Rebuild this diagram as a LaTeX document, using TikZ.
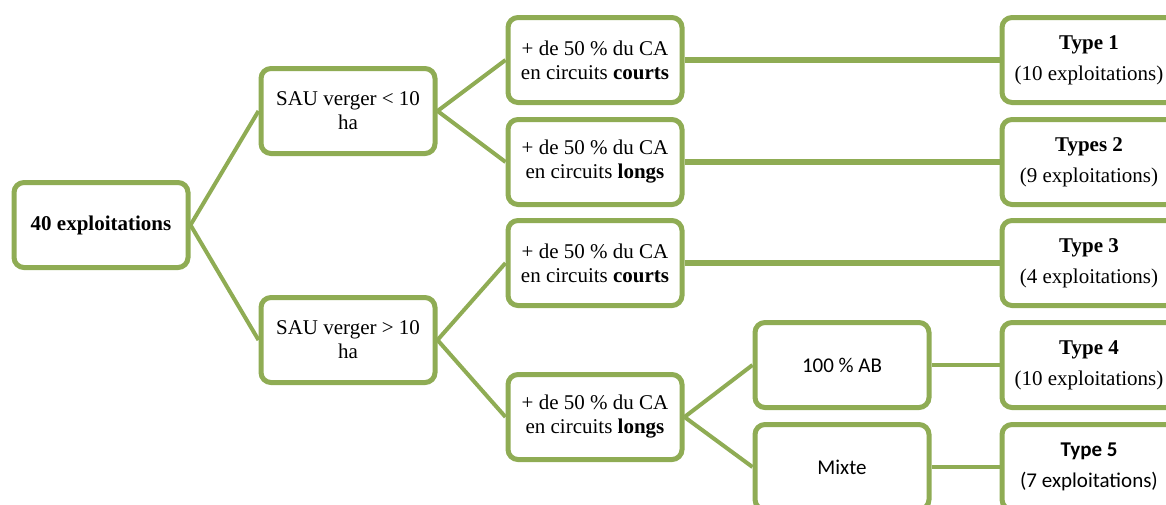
\documentclass[tikz,border=0pt]{standalone}
\usepackage{fontspec}
\setmainfont{Liberation Serif}
\newfontfamily\calfont{Carlito}
\definecolor{boxgreen}{RGB}{143,172,84}
\begin{document}
\begin{tikzpicture}[x=1pt,y=-1pt,
  box/.style={draw=boxgreen,line width=5pt,rounded corners=10pt,fill=white,
    minimum width=174pt,minimum height=85pt,align=center,inner sep=2pt,
    font=\fontsize{21}{24}\selectfont},
  typebox/.style={box,font=\fontsize{21}{31}\selectfont},
  link/.style={draw=boxgreen,line width=4pt},
  thick link/.style={draw=boxgreen,line width=5.5pt}]
\useasboundingbox (0,0) rectangle (1166,504);
\clip (0,0) rectangle (1166,504);
\path (101,225) coordinate (proot);
% nodes
\node[box] (root) at (101,225) {\textbf{40 exploitations}};
\node[box] (s1) at (348,111) {SAU verger < 10\\ha};
\node[box] (s2) at (348,340) {SAU verger > 10\\ha};
\node[box] (c1) at (595,60) {+ de 50 \% du CA\\en circuits \textbf{courts}};
\node[box] (c2) at (595,162) {+ de 50 \% du CA\\en circuits \textbf{longs}};
\node[box] (c3) at (595,263) {+ de 50 \% du CA\\en circuits \textbf{courts}};
\node[box] (c4) at (595,417) {+ de 50 \% du CA\\en circuits \textbf{longs}};
\node[box] (ab) at (842,365) {\calfont 100 \% AB};
\node[box] (mx) at (842,467) {\calfont Mixte};
\node[typebox] (t1) at (1089,60) {\textbf{Type 1}\\(10 exploitations)};
\node[typebox] (t2) at (1089,162) {\textbf{Types 2}\\(9 exploitations)};
\node[typebox] (t3) at (1089,263) {\textbf{Type 3}\\(4 exploitations)};
\node[typebox] (t4) at (1089,365) {\textbf{Type 4}\\(10 exploitations)};
\node[typebox] (t5) at (1089,467) {\calfont\textbf{Type 5}\\\calfont(7 exploitations)};
% connectors (behind boxes)
\begin{scope}[on background layer/.try]
\end{scope}
\path[link] (root.east) -- (s1.west);
\path[link] (root.east) -- (s2.west);
\path[link] (s1.east) -- (c1.west);
\path[link] (s1.east) -- (c2.west);
\path[link] (s2.east) -- (c3.west);
\path[link] (s2.east) -- (c4.west);
\path[link] (c4.east) -- (ab.west);
\path[link] (c4.east) -- (mx.west);
\path[thick link] (c1.east) -- (t1.west);
\path[thick link] (c2.east) -- (t2.west);
\path[thick link] (c3.east) -- (t3.west);
\path[link] (ab.east) -- (t4.west);
\path[link] (mx.east) -- (t5.west);
\end{tikzpicture}
\end{document}
